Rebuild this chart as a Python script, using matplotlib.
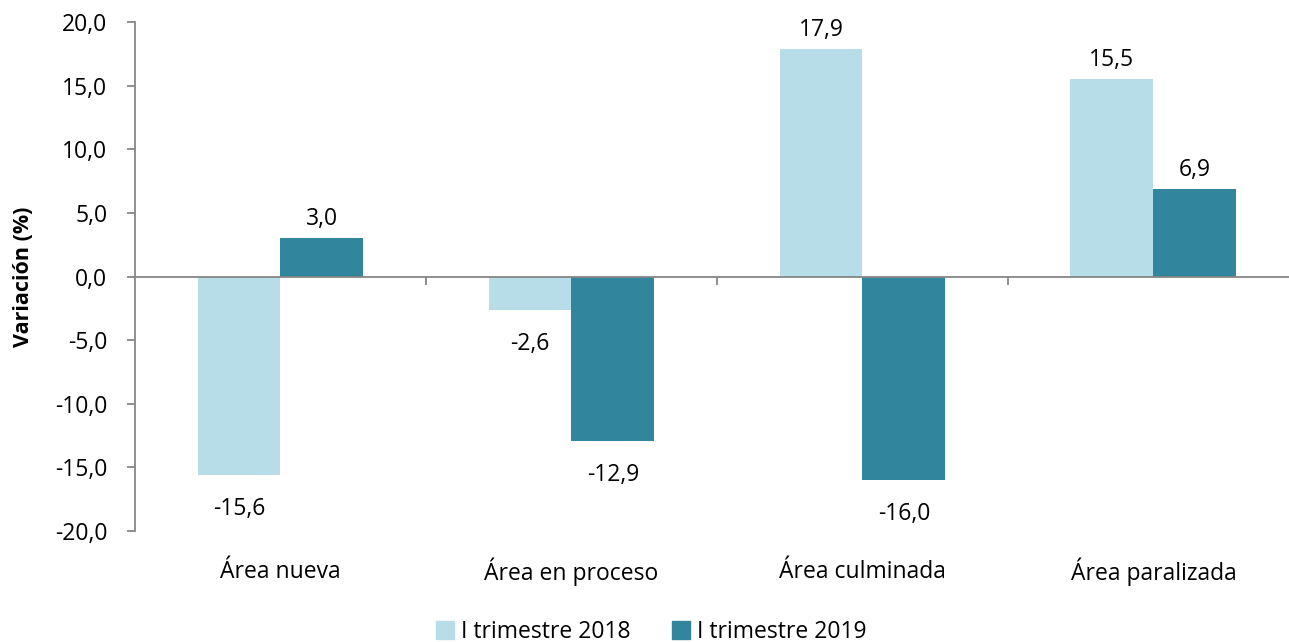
import matplotlib.pyplot as plt
import numpy as np
from matplotlib.patches import Patch
from matplotlib.transforms import blended_transform_factory

plt.rcParams['font.family'] = ['Open Sans', 'DejaVu Sans']

categorias = ['Área nueva', 'Área en proceso', 'Área culminada', 'Área paralizada']
serie_2018 = [-15.6, -2.6, 17.9, 15.5]
serie_2019 = [3.0, -12.9, -16.0, 6.9]
series = ['I trimestre 2018', 'I trimestre 2019']
colores = ['#B7DDE8', '#31859C']

fs = 16.5

fig = plt.figure(figsize=(12.89, 6.42), dpi=100)
ax = fig.add_axes([0.1047, 0.1729, 0.903, 0.7928])

x = np.arange(len(categorias))
w = 0.285
b1 = ax.bar(x - w / 2, serie_2018, w, color=colores[0])
b2 = ax.bar(x + w / 2, serie_2019, w, color=colores[1])

def fmt(v):
    return f'{v:.1f}'.replace('.', ',')

for bars, vals in [(b1, serie_2018), (b2, serie_2019)]:
    for r, v in zip(bars, vals):
        cx = r.get_x() + r.get_width() / 2
        if v >= 0:
            ax.annotate(fmt(v), (cx, v), xytext=(0, 5), textcoords='offset points',
                        ha='center', va='bottom', fontsize=fs)
        else:
            ax.annotate(fmt(v), (cx, v), xytext=(0, -16), textcoords='offset points',
                        ha='center', va='top', fontsize=fs)

ax.set_xlim(-0.5, 3.5)
ax.set_ylim(-20, 20)
ax.set_yticks(np.arange(-20, 21, 5))
ax.set_yticklabels([fmt(v) for v in np.arange(-20, 21, 5)], fontsize=fs)
ax.set_ylabel('Variación (%)', fontsize=fs - 1, fontweight='bold')
ax.yaxis.set_label_coords(-0.087, 0.5)

ax.spines['top'].set_visible(False)
ax.spines['right'].set_visible(False)
ax.spines['bottom'].set_position(('data', 0))
for s in ['left', 'bottom']:
    ax.spines[s].set_color('#868686')
    ax.spines[s].set_linewidth(1.3)
ax.set_xticks([0.5, 1.5, 2.5])
ax.set_xticklabels([])
ax.tick_params(axis='x', length=6, color='#868686', width=1.3)
ax.tick_params(axis='y', length=6, color='#868686', width=1.3, pad=14)

trans = blended_transform_factory(ax.transData, ax.transAxes)
for xi, c in zip(x, categorias):
    ax.text(xi, -0.08, c, transform=trans, ha='center', va='center', fontsize=fs)

handles = [Patch(color=colores[0]), Patch(color=colores[1])]
fig.legend(handles, series, loc='lower center', bbox_to_anchor=(0.505, -0.035), ncol=2,
           frameon=False, fontsize=fs, handlelength=0.8, handleheight=0.8,
           handletextpad=0.3, columnspacing=1.8)

fig.savefig('out.png', dpi=100)
